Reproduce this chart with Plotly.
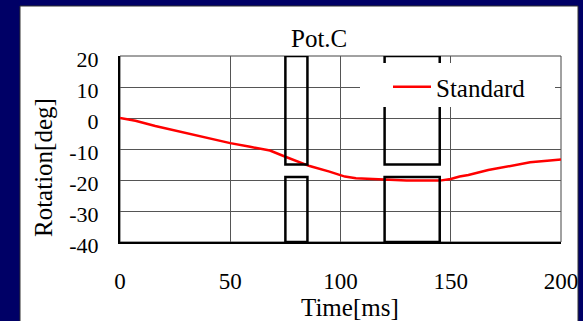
import plotly.graph_objects as go

# Rotation response of Pot.C (Standard condition)
time_ms = [0, 7, 16, 25, 34, 43, 50, 59, 68, 75, 80, 86, 95, 102, 107, 116,
           130, 145, 150, 154, 158, 167, 177, 186, 195, 200]
rotation_deg = [0, -0.9, -2.6, -4.1, -5.4, -7.1, -8.1, -9.3, -10.5, -12.5, -13.8,
                -15.5, -17.3, -18.9, -19.4, -19.7, -20.2, -20.2, -19.7, -18.9,
                -18.4, -16.8, -15.4, -14.3, -13.7, -13.4]

# Time windows marked with open boxes above and below the curve
window_start = [75, 120]
window_end = [85, 145]
upper_box_bottom = -15
lower_box_top = -19

x_ticks = [0, 50, 100, 150, 200]
y_ticks = [20, 10, 0, -10, -20, -30, -40]

W, H = 583, 321
L, R, T, B = 120, 22, 56, 79
PW, PH = W - L - R, H - T - B


def px(x):
    return (x - L) / PW


def py(y):
    return (H - B - y) / PH


SERIF = "Liberation Serif, Times New Roman, serif"

fig = go.Figure()
fig.add_trace(go.Scatter(
    x=time_ms, y=rotation_deg, mode="lines", name="Standard",
    line=dict(color="#ff0000", width=2.5),
))

shapes = []
# white panel behind the chart
shapes.append(dict(type="rect", xref="paper", yref="paper", layer="below",
                   x0=px(20), x1=px(578), y0=py(330), y1=py(6),
                   fillcolor="white", line=dict(color="#333333", width=1)))
# window boxes
for xs, xe in zip(window_start, window_end):
    shapes.append(dict(type="rect", xref="x", yref="y", layer="above",
                       x0=xs, x1=xe, y0=upper_box_bottom, y1=20,
                       line=dict(color="black", width=2.5)))
    shapes.append(dict(type="rect", xref="x", yref="y", layer="above",
                       x0=xs, x1=xe, y0=-40, y1=lower_box_top,
                       line=dict(color="black", width=2.5)))
# legend background
shapes.append(dict(type="rect", xref="paper", yref="paper", layer="above",
                   x0=px(360), x1=px(555), y0=py(107), y1=py(63),
                   fillcolor="white", line=dict(width=0)))
# plot frame (top/right)
shapes.append(dict(type="rect", xref="paper", yref="paper", layer="below",
                   x0=0, x1=1, y0=0, y1=1,
                   line=dict(color="#444444", width=1)))

annotations = [
    dict(text="Pot.C", xref="paper", yref="paper", x=px(319), y=py(38),
         xanchor="center", yanchor="middle", showarrow=False,
         font=dict(family=SERIF, size=25, color="black")),
    dict(text="Rotation[deg]", xref="paper", yref="paper", x=px(43), y=py(168),
         xanchor="center", yanchor="middle", showarrow=False, textangle=-90,
         font=dict(family=SERIF, size=25, color="black")),
    dict(text="Time[ms]", xref="paper", yref="paper", x=px(350), y=py(307),
         xanchor="center", yanchor="middle", showarrow=False,
         font=dict(family=SERIF, size=25, color="black")),
]

fig.update_layout(
    width=W, height=H,
    margin=dict(l=L, r=R, t=T, b=B, pad=0, autoexpand=False),
    paper_bgcolor="#000066",
    plot_bgcolor="white",
    shapes=shapes,
    annotations=annotations,
    showlegend=True,
    legend=dict(x=px(388), y=py(87), xanchor="left", yanchor="middle",
                bgcolor="rgba(0,0,0,0)", borderwidth=0, itemwidth=38,
                font=dict(family=SERIF, size=25, color="black")),
    xaxis=dict(range=[0, 200], tickvals=x_ticks, ticktext=[str(v) for v in x_ticks],
               showgrid=True, gridcolor="#555555", gridwidth=1,
               showline=True, linecolor="black", linewidth=2,
               zeroline=False, ticks="", ticklabelstandoff=17, automargin=False,
               tickfont=dict(family=SERIF, size=23, color="black")),
    yaxis=dict(range=[-40, 20], tickvals=y_ticks, ticktext=[str(v) for v in y_ticks],
               showgrid=True, gridcolor="#555555", gridwidth=1,
               showline=True, linecolor="black", linewidth=2,
               zeroline=False, ticks="", ticklabelstandoff=15, ticklabelshift=3,
               automargin=False,
               tickfont=dict(family=SERIF, size=22, color="black")),
)

fig.write_html("out.html")
